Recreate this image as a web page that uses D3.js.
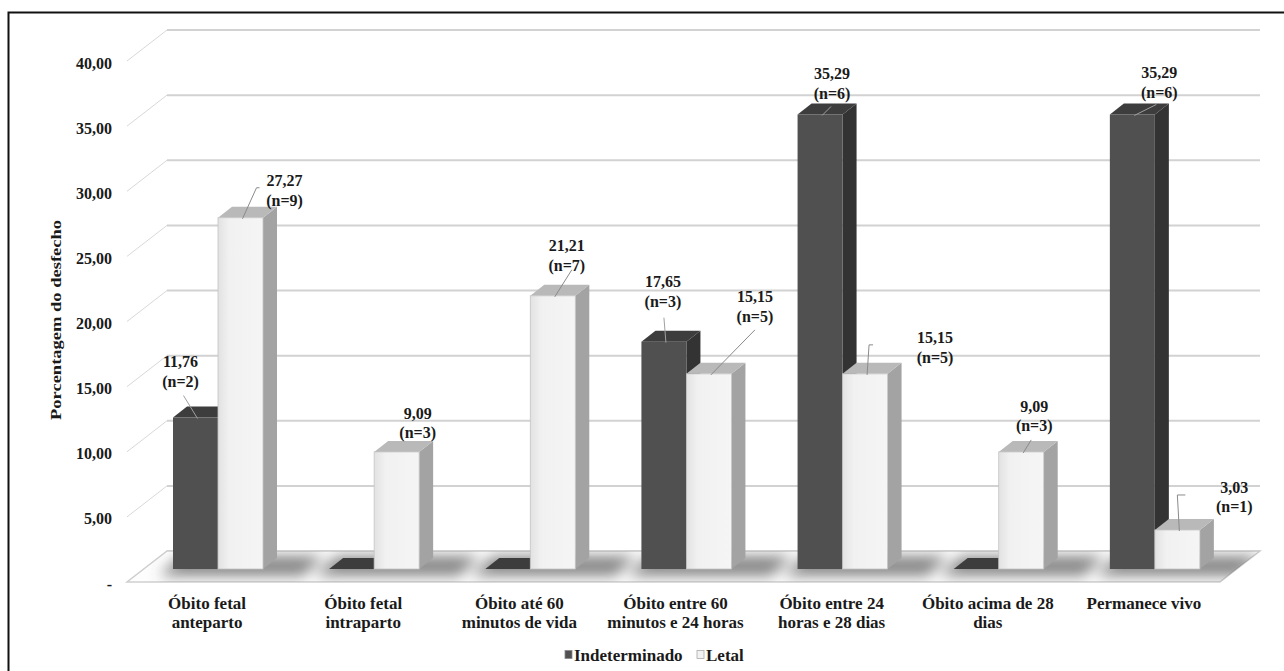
<!DOCTYPE html>
<html>
<head>
<meta charset="utf-8">
<script src="https://cdn.jsdelivr.net/npm/d3@7"></script>
<style>
    body { margin: 0; background: #fff; overflow: hidden; }
    svg { display: block; }
    text, tspan { font-family: "Liberation Serif", "Times New Roman", serif; font-weight: bold; fill: #1a1a1a; }
</style>
</head>
<body>
<div class="chart"></div>
<script>
const categories = [
    "Óbito fetal anteparto",
    "Óbito fetal intraparto",
    "Óbito até 60 minutos de vida",
    "Óbito entre 60 minutos e 24 horas",
    "Óbito entre 24 horas e 28 dias",
    "Óbito acima de 28 dias",
    "Permanece vivo"
]
const categoryLines = [
    ["Óbito fetal", "anteparto"],
    ["Óbito fetal", "intraparto"],
    ["Óbito até 60", "minutos de vida"],
    ["Óbito entre 60", "minutos e 24 horas"],
    ["Óbito entre 24", "horas e 28 dias"],
    ["Óbito acima de 28", "dias"],
    ["Permanece vivo"]
]
const seriesNames = ["Indeterminado", "Letal"]
const indeterminado = [11.76, 0, 0, 17.65, 35.29, 0, 35.29]
const indeterminadoN = [2, 0, 0, 3, 6, 0, 6]
const letal = [27.27, 9.09, 21.21, 15.15, 15.15, 9.09, 3.03]
const letalN = [9, 3, 7, 5, 5, 3, 1]
const yTicks = [0, 5, 10, 15, 20, 25, 30, 35, 40]

// label placement (offsets from the bar's top front centre), as moved by hand in the original
const labelOffsets = [
    [[-15, -56], null, null, [-1, -60], [12, -41], null, [27, -42]],
    [[44, -37], [21, -39], [14, -50], [46, -77], [70, -36], [13, -46], [57, -43]]
]
const leaderPoints = [
    [[[-12, -22]], null, null, [[0, -24]], [[11, -8]], null, [[24, -10]]],
    [[[19, -30], [16, -30]], null, [[19, -26]], [[46, -44]], [[8, -29], [4, -29]], [[10, -12]], [[8, -35], [0, -35]]]
]

const W = 1284, H = 671
const depth = { dx: 40, dy: -31 }
const barDepth = { dx: 14, dy: -11 }
const fmt = function (v) { return d3.format(".2f")(v).replace(".", ",") }

const svg = d3.select(".chart")
    .append("svg")
    .attr("width", W)
    .attr("height", H)
    .attr("font-family", "'Liberation Serif', serif")

const defs = svg.append("defs")
defs.append("filter").attr("id", "blur")
    .attr("x", "-50%").attr("y", "-50%").attr("width", "200%").attr("height", "200%")
    .append("feGaussianBlur").attr("stdDeviation", 7)
const lg = defs.append("linearGradient").attr("id", "lightFront")
lg.append("stop").attr("offset", "0%").attr("stop-color", "#e2e2e2")
lg.append("stop").attr("offset", "25%").attr("stop-color", "#f1f1f1")
lg.append("stop").attr("offset", "100%").attr("stop-color", "#f5f5f5")

const x = d3.scaleBand().domain(categories).range([127, 1220])
const xs = d3.scaleBand().domain(seriesNames).range([46, 136])
const yFront = d3.scaleLinear().domain([0, 40]).range([582, 61])
const yBack = d3.scaleLinear().domain([0, 40]).range([582 + depth.dy, 61 + depth.dy])
const yBar = d3.scaleLinear().domain([0, 40]).range([569, 569 - 515.2])

// frame
svg.append("rect")
    .attr("x", 8.5).attr("y", 12.5)
    .attr("width", W + 100).attr("height", H + 100)
    .style("fill", "none")
    .style("stroke", "#111")
    .style("stroke-width", 2)

// back wall grid
svg.selectAll("line.back-grid")
    .data(yTicks)
    .enter().append("line")
    .attr("class", "back-grid")
    .attr("x1", 127 + depth.dx).attr("x2", 1220 + depth.dx)
    .attr("y1", function (d) { return yBack(d) })
    .attr("y2", function (d) { return yBack(d) })
    .style("stroke", "#d2d2d2")
    .style("stroke-width", 2)

// side wall grid
svg.selectAll("line.side-grid")
    .data(yTicks)
    .enter().append("line")
    .attr("class", "side-grid")
    .attr("x1", 127).attr("x2", 127 + depth.dx)
    .attr("y1", function (d) { return yFront(d) })
    .attr("y2", function (d) { return yBack(d) })
    .style("stroke", "#d8d8d8")
    .style("stroke-width", 1)

// floor
const f0 = yFront(0)
const floorPts = [[127, f0], [1220, f0], [1220 + depth.dx, f0 + depth.dy], [127 + depth.dx, f0 + depth.dy]].join(" ")
defs.append("clipPath").attr("id", "floorClip")
    .append("polygon").attr("points", floorPts)
svg.append("polygon")
    .attr("points", floorPts)
    .style("fill", "#fdfdfd")
    .style("stroke", "#cfcfcf")
    .style("stroke-width", 1.5)

// floor shadows
const shadows = svg.append("g")
    .attr("clip-path", "url(#floorClip)")
    .append("g")
    .attr("filter", "url(#blur)")
categories.forEach(function (c) {
    const x0 = x(c) + xs("Indeterminado") - 14
    const x1 = x(c) + xs("Letal") + xs.bandwidth()
    shadows.append("polygon")
        .attr("points", [[x0, 576], [x1 + 40, 576], [x1 + 60, 556], [x0 + 22, 556]].join(" "))
        .style("fill", "#555")
        .style("opacity", 0.7)
})

const bars = []
categories.forEach(function (c, i) {
    bars.push({ cat: c, i: i, s: 0, name: "Indeterminado", v: indeterminado[i], n: indeterminadoN[i] })
    bars.push({ cat: c, i: i, s: 1, name: "Letal", v: letal[i], n: letalN[i] })
})
const colors = {
    Indeterminado: { front: "#505050", side: "#333333", top: "#3d3d3d", stroke: "none" },
    Letal: { front: "url(#lightFront)", side: "#a3a3a3", top: "#b9b9b9", stroke: "#c4c4c4" }
}

const barG = svg.selectAll("g.bar")
    .data(bars)
    .enter().append("g")
    .attr("class", "bar")

barG.each(function (d) {
    const g = d3.select(this)
    const bx = x(d.cat) + xs(d.name)
    const w = xs.bandwidth()
    const yt = yBar(d.v), yb = yBar(0)
    const col = colors[d.name]
    g.append("polygon")
        .attr("points", [[bx + w, yt], [bx + w + barDepth.dx, yt + barDepth.dy], [bx + w + barDepth.dx, yb + barDepth.dy], [bx + w, yb]].join(" "))
        .style("fill", col.side)
    g.append("polygon")
        .attr("points", [[bx, yt], [bx + barDepth.dx, yt + barDepth.dy], [bx + w + barDepth.dx, yt + barDepth.dy], [bx + w, yt]].join(" "))
        .style("fill", col.top)
    g.append("rect")
        .attr("x", bx).attr("y", yt)
        .attr("width", w).attr("height", yb - yt)
        .style("fill", col.front)
        .style("stroke", col.stroke)
        .style("stroke-width", 0.8)
})

// leaders and data labels
bars.filter(function (d) { return labelOffsets[d.s][d.i] }).forEach(function (d) {
    const cx = x(d.cat) + xs(d.name) + xs.bandwidth() / 2
    const yt = yBar(d.v)
    const off = labelOffsets[d.s][d.i]
    const pts = leaderPoints[d.s][d.i]
    if (pts) {
        const path = pts.map(function (p) { return [cx + p[0], yt + p[1]] })
        path.push([cx + 2, yt + 1])
        svg.append("path")
            .attr("d", d3.line()(path))
            .style("fill", "none")
            .style("stroke", d.s === 0 ? "#a0a0a0" : "#8a8a8a")
            .style("stroke-width", 1)
    }
    const t = svg.append("text")
        .attr("x", cx + off[0])
        .attr("y", yt + off[1])
        .attr("text-anchor", "middle")
        .style("font-size", "16px")
    t.append("tspan").attr("x", cx + off[0]).attr("dy", "0.35em").text(fmt(d.v))
    t.append("tspan").attr("x", cx + off[0]).attr("dy", "1.22em").text("(n=" + d.n + ")")
})

// y tick labels
svg.selectAll("text.ytick")
    .data(yTicks)
    .enter().append("text")
    .attr("class", "ytick")
    .attr("x", 112)
    .attr("y", function (d) { return yFront(d) + 2 })
    .attr("dy", "0.35em")
    .attr("text-anchor", "end")
    .style("font-size", "16px")
    .text(function (d) { return d === 0 ? "-" : fmt(d) })

svg.append("text")
    .attr("transform", "translate(56, 320) rotate(-90)")
    .attr("text-anchor", "middle")
    .attr("dy", "0.35em")
    .attr("textLength", 200)
    .attr("lengthAdjust", "spacingAndGlyphs")
    .style("font-size", "15.5px")
    .text("Porcentagem do desfecho")

// category labels
svg.selectAll("text.cat")
    .data(categories)
    .enter().append("text")
    .attr("class", "cat")
    .attr("text-anchor", "middle")
    .style("font-size", "17px")
    .each(function (c, i) {
        const cx = x(c) + x.bandwidth() / 2 + 2
        d3.select(this).selectAll("tspan")
            .data(categoryLines[i])
            .enter().append("tspan")
            .attr("x", cx)
            .attr("y", function (l, j) { return 603 + j * 19 })
            .attr("dy", "0.35em")
            .text(function (l) { return l })
    })

// legend
const legend = svg.append("g")
const legendX = [565, 697]
seriesNames.forEach(function (name, i) {
    legend.append("rect")
        .attr("x", legendX[i]).attr("y", 650.5)
        .attr("width", 7).attr("height", 8)
        .style("fill", i === 0 ? "#505050" : "#f2f2f2")
        .style("stroke", i === 0 ? "#888" : "#aaa")
        .style("stroke-width", 0.8)
    legend.append("text")
        .attr("x", legendX[i] + 9)
        .attr("y", 655)
        .attr("dy", "0.35em")
        .style("font-size", "17px")
        .text(name)
})
</script>
</body>
</html>
